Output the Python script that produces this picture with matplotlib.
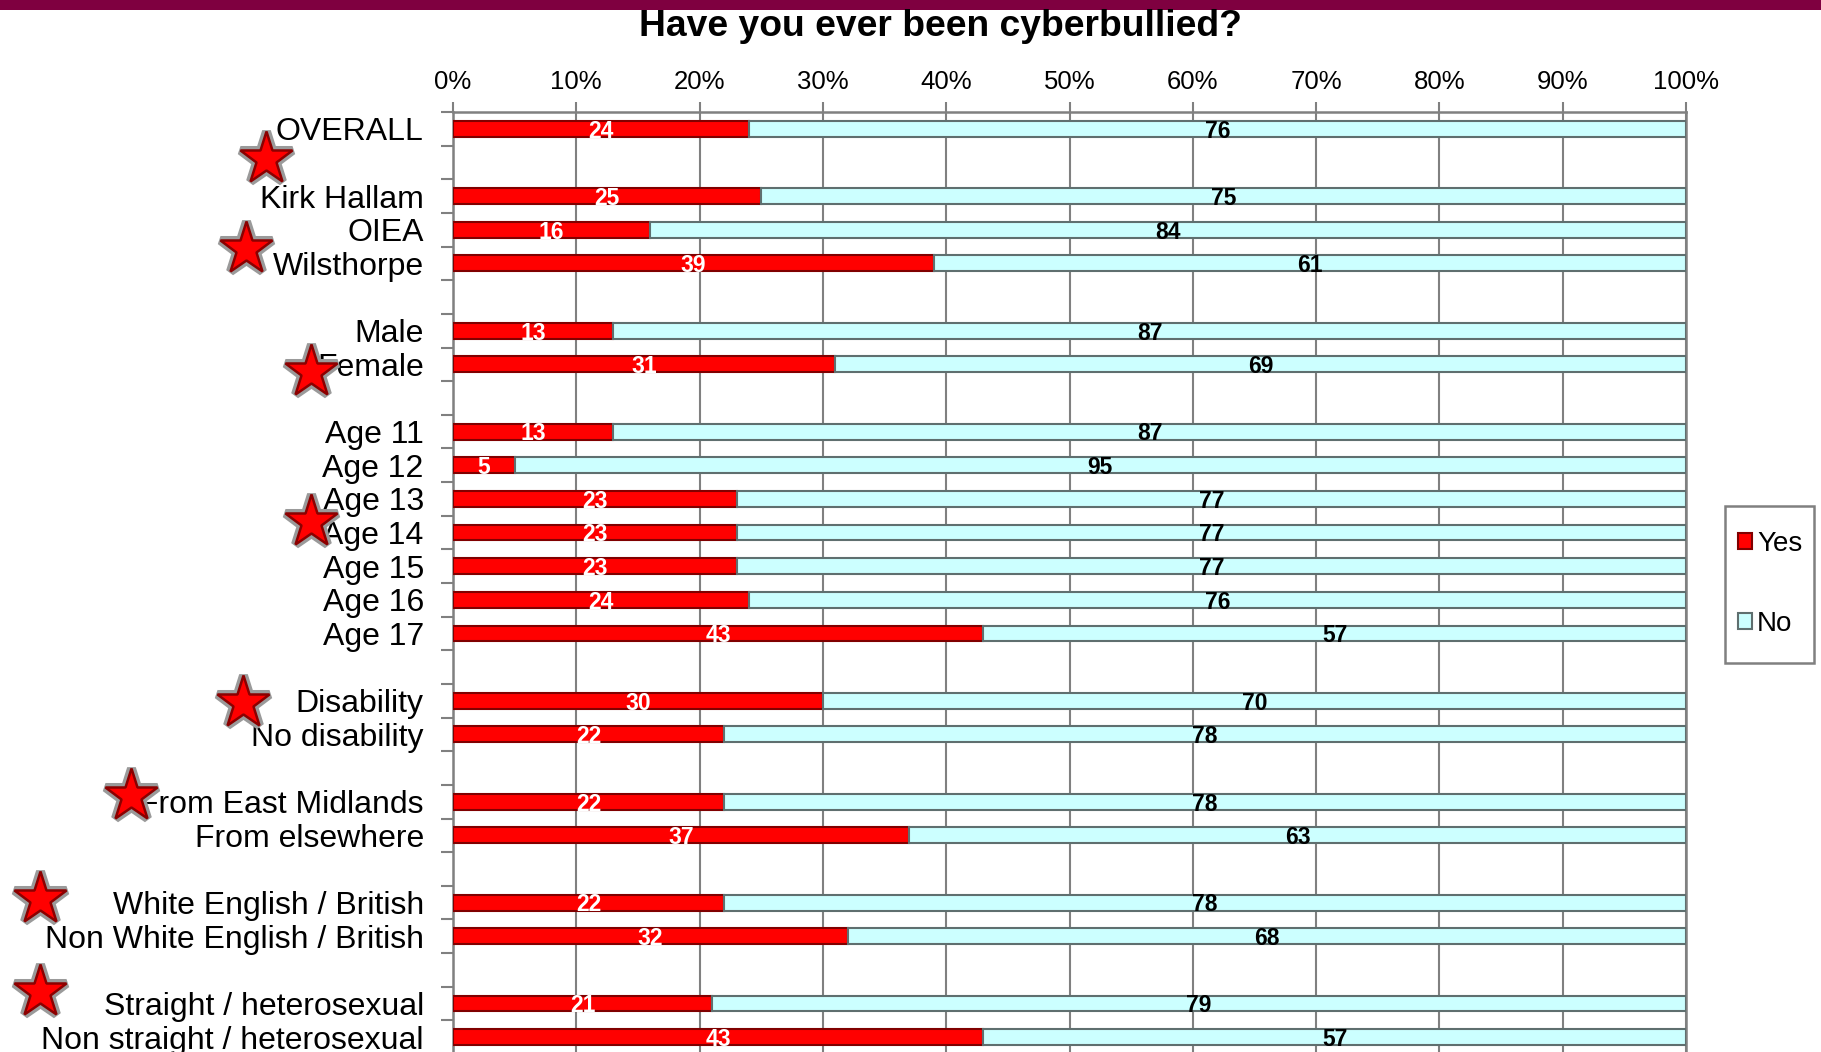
import numpy as np
import matplotlib
matplotlib.use('Agg')
import matplotlib.pyplot as plt
from matplotlib.patches import Rectangle

plt.rcParams['font.family'] = ['Liberation Sans', 'DejaVu Sans']

# data (blank rows = gaps between groups)
categories = ['OVERALL', '', 'Kirk Hallam', 'OIEA', 'Wilsthorpe', '',
              'Male', 'Female', '',
              'Age 11', 'Age 12', 'Age 13', 'Age 14', 'Age 15', 'Age 16', 'Age 17', '',
              'Disability', 'No disability', '',
              'From East Midlands', 'From elsewhere', '',
              'White English / British', 'Non White English / British', '',
              'Straight / heterosexual', 'Non straight / heterosexual']
yes = [24, None, 25, 16, 39, None,
       13, 31, None,
       13, 5, 23, 23, 23, 24, 43, None,
       30, 22, None,
       22, 37, None,
       22, 32, None,
       21, 43]
no = [76, None, 75, 84, 61, None,
      87, 69, None,
      87, 95, 77, 77, 77, 76, 57, None,
      70, 78, None,
      78, 63, None,
      78, 68, None,
      79, 57]
xticks = [0, 10, 20, 30, 40, 50, 60, 70, 80, 90, 100]
xticklabels = ['0%', '10%', '20%', '30%', '40%', '50%', '60%', '70%', '80%', '90%', '100%']

# stars next to labels (figure pixels)
star_x = [266, 246, 311, 311, 243, 131, 40, 40]
star_y = [159, 249, 372, 522, 703, 796, 899, 992]

W, H = 1821, 1052
fig = plt.figure(figsize=(W / 100, H / 100), dpi=100)
fig.patches.append(Rectangle((0, 1 - 10 / H), 1, 10 / H, transform=fig.transFigure,
                             facecolor='#7F0040', edgecolor='none'))

ax = fig.add_axes([453 / W, -2 / H, 1233 / W, 942 / H])

rows = [i for i in range(len(categories)) if yes[i] is not None]
y_vals = [yes[i] for i in rows]
n_vals = [no[i] for i in rows]

bh = 0.47
b1 = ax.barh(rows, y_vals, height=bh, color='#FF0000', edgecolor='#800000', linewidth=1.5,
             label='Yes', zorder=3)
b2 = ax.barh(rows, n_vals, left=y_vals, height=bh, color='#CCFFFF', edgecolor='#5F6F6F',
             linewidth=1.5, label='No', zorder=3)

for r, a, b in zip(rows, y_vals, n_vals):
    ax.text(a / 2, r + 0.07, str(a), ha='center', va='center', color='white',
            fontsize=16.5, fontweight='bold', zorder=5)
    ax.text(a + b / 2, r + 0.07, str(b), ha='center', va='center', color='black',
            fontsize=16.5, fontweight='bold', zorder=5)

ax.set_xlim(0, 100)
ax.set_ylim(len(categories) - 0.5, -0.5)

ax.xaxis.tick_top()
ax.set_xticks(xticks)
ax.set_xticklabels(xticklabels, fontsize=18.5)
ax.tick_params(axis='x', direction='out', length=7, width=1.5, color='#808080', pad=6)
ax.grid(axis='x', color='#808080', linewidth=1.5, zorder=0)

ax.set_yticks(np.arange(-0.5, len(categories), 1.0))
ax.set_yticklabels([])
ax.set_yticks(range(len(categories)), minor=True)
ax.set_yticklabels(categories, minor=True, fontsize=23)
ax.tick_params(axis='y', which='major', direction='out', length=9, width=1.5, color='#808080')
ax.tick_params(axis='y', which='minor', length=0, pad=21)

for s in ['left', 'top', 'right']:
    ax.spines[s].set_color('#808080')
    ax.spines[s].set_linewidth(1.8)
ax.spines['bottom'].set_visible(False)

fig.text(940 / W, 1 - 26 / H, 'Have you ever been cyberbullied?', ha='center', va='center',
         fontsize=26.8, fontweight='bold')

# legend box drawn by hand, entries centred in it
fig.patches.append(Rectangle((1725 / W, 1 - 663 / H), 89 / W, 157 / H, transform=fig.transFigure,
                             facecolor='white', edgecolor='#808080', linewidth=1.8))
leg = fig.legend(handles=[b1, b2], labels=['Yes', 'No'], loc='center',
                 bbox_to_anchor=(1770 / W, 1 - 584 / H), fontsize=20,
                 handlelength=0.5, handleheight=0.5, handletextpad=0.2,
                 labelspacing=1.95, borderpad=0, borderaxespad=0, frameon=False)

# stars overlay
ov = fig.add_axes([0, 0, 1, 1], zorder=10)
ov.set_xlim(0, W)
ov.set_ylim(H, 0)
ov.axis('off')
ov.plot(star_x, star_y, linestyle='none', marker='*', markersize=40,
        markerfacecolor='#FF0000', markeredgecolor='#9A9A9A', markeredgewidth=6.5)
ov.plot(star_x, star_y, linestyle='none', marker='*', markersize=40,
        markerfacecolor='#FF0000', markeredgecolor='#8B0000', markeredgewidth=1.8)

fig.savefig('out.png', dpi=100)
